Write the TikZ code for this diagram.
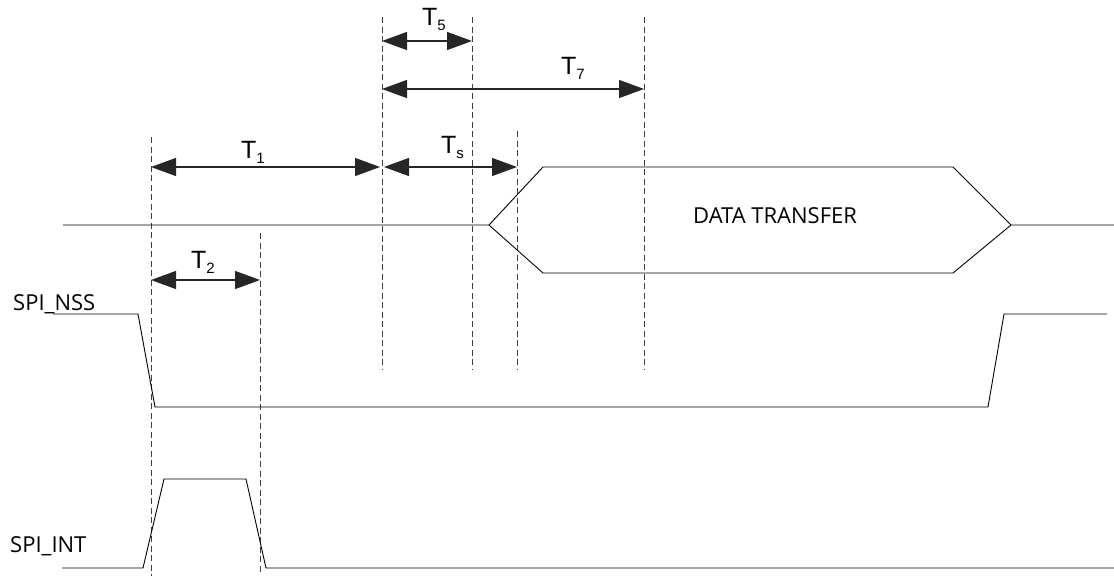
\documentclass[tikz,border=0pt]{standalone}
\usepackage{fontspec}
\setmainfont{Liberation Sans}
\newfontfamily\labelfont{Open Sans}
\usetikzlibrary{arrows.meta}
\tikzset{
  wave/.style={line width=0.9pt, black, line join=miter},
  dline/.style={line width=0.8pt, black!75, dash pattern=on 6pt off 3.5pt},
  dim/.style={line width=1.2pt, black!85, {Triangle[length=25pt,width=18pt]}-{Triangle[length=25pt,width=18pt]}},
  tlab/.style={anchor=base west, inner sep=0pt, font=\fontsize{25}{25}\selectfont},
  sig/.style={anchor=base west, inner sep=0pt, font=\labelfont\fontsize{22}{22}\selectfont}
}
\newcommand{\sbx}[1]{\raisebox{-5pt}{\fontsize{15}{15}\selectfont #1}}
\begin{document}
\begin{tikzpicture}[x=1pt,y=-1pt]
\useasboundingbox (0,0) rectangle (1114,576);
% dashed reference lines
\coordinate (d1t) at (151,137); \coordinate (d1b) at (151,576);
\coordinate (d2t) at (260,233); \coordinate (d2b) at (260,572);
\coordinate (d3t) at (382,17);  \coordinate (d3b) at (382,370);
\coordinate (d4t) at (472,17);  \coordinate (d4b) at (472,370);
\coordinate (d5t) at (517,131); \coordinate (d5b) at (517,370);
\coordinate (d6t) at (644,17);  \coordinate (d6b) at (644,370);
\foreach \i in {1,...,6} \draw[dline] (d\i t) -- (d\i b);
% dimension arrows
\coordinate (a5l) at (382,41);  \coordinate (a5r) at (472,41);
\coordinate (a7l) at (382,89);  \coordinate (a7r) at (644,89);
\coordinate (a1l) at (151,167); \coordinate (a1r) at (380,167);
\coordinate (asl) at (384,167); \coordinate (asr) at (517,167);
\coordinate (a2l) at (151,280); \coordinate (a2r) at (260,280);
\draw[dim] (a5l) -- (a5r);
\draw[dim] (a7l) -- (a7r);
\draw[dim] (a1l) -- (a1r);
\draw[dim] (asl) -- (asr);
\draw[dim] (a2l) -- (a2r);
\node[tlab] (t5) at (422,25) {T\sbx{5}};
\node[tlab] (t7) at (561,74) {T\sbx{7}};
\node[tlab] (t1) at (241,158) {T\sbx{1}};
\node[tlab] (ts) at (441,153) {T\sbx{s}};
\node[tlab] (t2) at (191,268) {T\sbx{2}};
% data bus
\draw[wave] (63,225) -- (489,225) -- (543,167) -- (953,167) -- (1011,225) -- (1114,225);
\draw[wave] (489,225) -- (543,273) -- (953,273) -- (1011,225);
\node[sig] (data) at (693,223) {DATA TRANSFER};
% SPI_NSS
\node[sig] (nss) at (13,310) {SPI\_NSS};
\draw[wave] (53,314) -- (138,314) -- (155,407) -- (988,407) -- (1004,314) -- (1107,314);
% SPI_INT
\node[sig] (int) at (10,552) {SPI\_INT};
\draw[wave] (62,568) -- (143,568) -- (164,479) -- (246,479) -- (266,568) -- (1114,568);
\end{tikzpicture}
\end{document}
